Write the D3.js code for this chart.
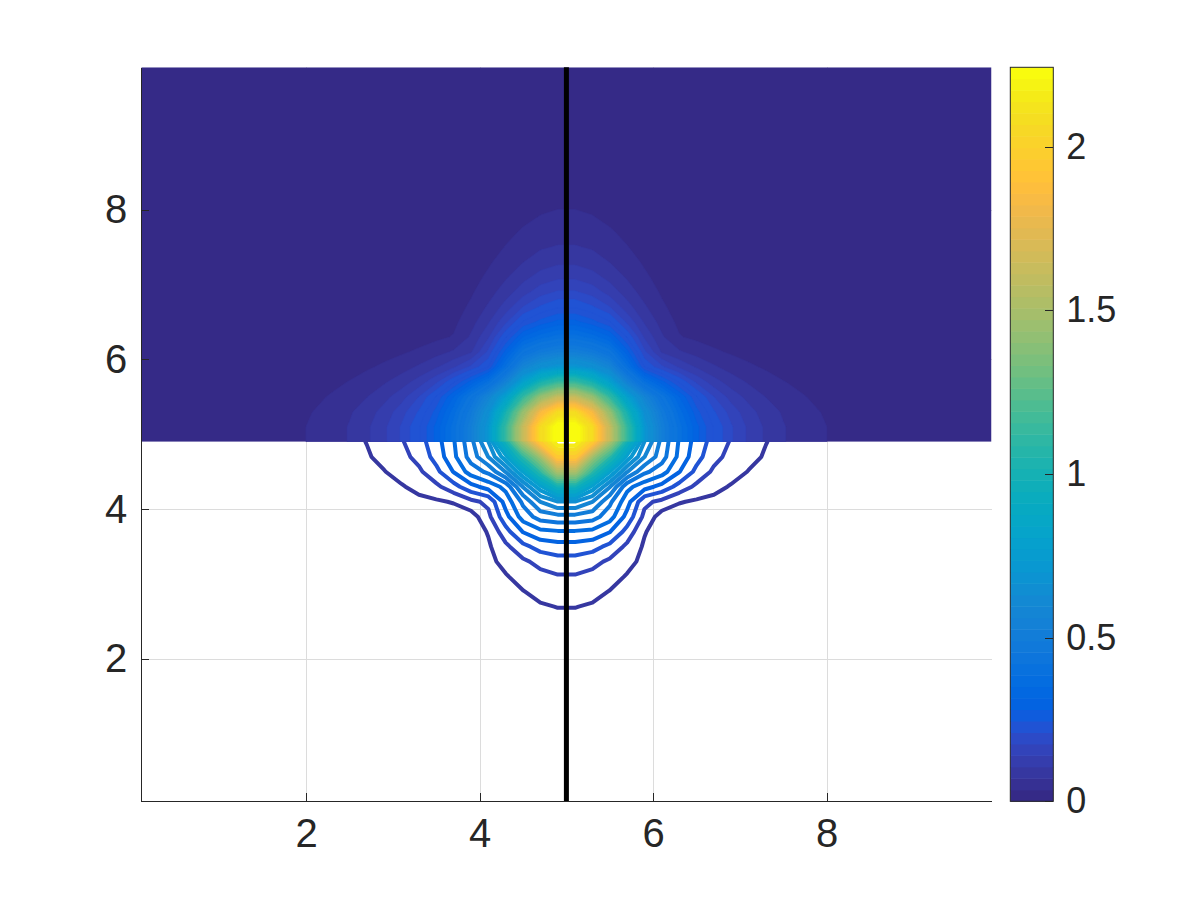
<!DOCTYPE html>
<meta charset="utf-8">
<head>
<style>
    body { margin: 0; background: #fff; font-family: "Liberation Sans", Arial, sans-serif; }
    .grid line { stroke: #dcdcdc; stroke-width: 1; shape-rendering: crispEdges; }
    .grid path { stroke-width: 0; }
    .axis path, .axis line { stroke: #262626; stroke-width: 1; shape-rendering: crispEdges; }
    .axis text { fill: #262626; font-size: 40px; }
    .cbar text { fill: #262626; font-size: 36px; }
    .cbar line { stroke: #262626; shape-rendering: crispEdges; }
    .cbar path { stroke-width: 0; }
</style>
</head>
<body>
<div id="chart"></div>
<script src="https://d3js.org/d3.v7.min.js"></script>
<script>
// values around the peak at (5,5).
// row a / column b are offsets 0.1, 0.3, 0.5 ... from the centre, b >= a
// (same on all four sides and under a <-> b), anything further out = 0

// filled part (upper half)
const fillUpper = [
    [2.243, 2.036, 1.592, 1.108, 0.692, 0.504, 0.374, 0.278, 0.206, 0.153, 0.113, 0.084, 0.062, 0.046, 0.034, 0.026, 0.019],
    [1.800, 1.408, 0.973, 0.638, 0.471, 0.345, 0.250, 0.183, 0.136, 0.101, 0.075, 0.056, 0.041, 0.031, 0.023, 0.017],
    [1.101, 0.761, 0.546, 0.409, 0.300, 0.212, 0.150, 0.107, 0.080, 0.059, 0.044, 0.033, 0.024, 0.018, 0.013],
    [0.526, 0.368, 0.279, 0.205, 0.143, 0.102, 0.075, 0.056, 0.042, 0.031, 0.023, 0.017, 0.013, 0.009],
    [0.210, 0.156, 0.115, 0.086, 0.064, 0.047, 0.035, 0.026, 0.019, 0.014, 0.011, 0.008, 0.006],
    [0.086, 0.064, 0.048, 0.035, 0.026, 0.019, 0.014, 0.011, 0.008, 0.006, 0.004, 0.003],
    [0.032, 0.023, 0.017, 0.013, 0.010, 0.007, 0.005, 0.004, 0.003, 0.002, 0.002],
    [0.010, 0.008, 0.006, 0.004, 0.003, 0.002, 0.002, 0.001, 0.001, 0.001],
    [0.003, 0.002, 0.002, 0.001, 0.001]
];

// contour-line part (lower half)
const lineUpper = [
    [2.243, 1.952, 1.478, 0.974, 0.649, 0.484, 0.355, 0.260, 0.188, 0.138, 0.101, 0.074, 0.054, 0.040, 0.029, 0.022, 0.016],
    [1.432, 1.084, 0.770, 0.580, 0.465, 0.344, 0.244, 0.167, 0.122, 0.090, 0.066, 0.048, 0.035, 0.026, 0.019, 0.014],
    [0.795, 0.583, 0.450, 0.394, 0.293, 0.197, 0.131, 0.096, 0.070, 0.052, 0.038, 0.028, 0.020, 0.015, 0.011],
    [0.384, 0.318, 0.265, 0.190, 0.128, 0.091, 0.067, 0.049, 0.036, 0.026, 0.019, 0.014, 0.010, 0.008],
    [0.162, 0.126, 0.078, 0.062, 0.056, 0.041, 0.030, 0.022, 0.016, 0.012, 0.009, 0.006, 0.005],
    [0.037, 0.030, 0.027, 0.025, 0.021, 0.016, 0.012, 0.009, 0.006, 0.005, 0.004, 0.003],
    [0.003, 0.006, 0.008, 0.008, 0.007, 0.005, 0.004, 0.003, 0.002, 0.002, 0.001],
    [0.000, 0.001, 0.001, 0.001, 0.001]
];

const centre = 5, splitY = 4.9, markerX = 5;
const cmax = 2.243;
const nFill = 75, nLine = 30;
const xTicks = [2, 4, 6, 8], yTicks = [2, 4, 6, 8], cbTicks = [0, 0.5, 1, 1.5, 2];

const parula = [
[0.2081,0.1663,0.5292],[0.2116,0.1898,0.5777],[0.2123,0.2138,0.6270],[0.2081,0.2386,0.6771],
[0.1959,0.2645,0.7279],[0.1707,0.2919,0.7792],[0.1253,0.3242,0.8303],[0.0591,0.3598,0.8683],
[0.0117,0.3875,0.8820],[0.0060,0.4086,0.8828],[0.0165,0.4266,0.8786],[0.0329,0.4430,0.8720],
[0.0498,0.4586,0.8641],[0.0629,0.4737,0.8554],[0.0723,0.4887,0.8467],[0.0779,0.5040,0.8384],
[0.0793,0.5200,0.8312],[0.0749,0.5375,0.8263],[0.0641,0.5570,0.8240],[0.0488,0.5772,0.8228],
[0.0343,0.5966,0.8199],[0.0265,0.6137,0.8135],[0.0239,0.6287,0.8038],[0.0231,0.6418,0.7913],
[0.0228,0.6535,0.7768],[0.0267,0.6642,0.7607],[0.0384,0.6743,0.7436],[0.0590,0.6838,0.7254],
[0.0843,0.6928,0.7062],[0.1133,0.7015,0.6859],[0.1453,0.7098,0.6646],[0.1801,0.7177,0.6424],
[0.2178,0.7250,0.6193],[0.2586,0.7317,0.5954],[0.3022,0.7376,0.5712],[0.3482,0.7424,0.5473],
[0.3953,0.7459,0.5244],[0.4420,0.7481,0.5033],[0.4871,0.7491,0.4840],[0.5300,0.7491,0.4661],
[0.5709,0.7485,0.4494],[0.6099,0.7473,0.4337],[0.6473,0.7456,0.4188],[0.6834,0.7435,0.4044],
[0.7184,0.7411,0.3905],[0.7525,0.7384,0.3768],[0.7858,0.7356,0.3633],[0.8185,0.7327,0.3498],
[0.8507,0.7299,0.3360],[0.8824,0.7274,0.3217],[0.9139,0.7258,0.3063],[0.9450,0.7261,0.2886],
[0.9739,0.7314,0.2666],[0.9938,0.7455,0.2403],[0.9990,0.7653,0.2164],[0.9955,0.7861,0.1967],
[0.9880,0.8066,0.1794],[0.9789,0.8271,0.1633],[0.9697,0.8481,0.1475],[0.9626,0.8705,0.1309],
[0.9589,0.8949,0.1132],[0.9598,0.9218,0.0948],[0.9661,0.9514,0.0755],[0.9763,0.9831,0.0538]
].map(c => d3.rgb(c[0] * 255, c[1] * 255, c[2] * 255).formatHex());

function lineColour(v) {
    return parula[Math.max(0, Math.min(63, Math.floor(v / cmax * 64)))];
}
function fillColour(v) {
    return parula[Math.max(0, Math.min(63, Math.ceil(v / cmax * 64)))];
}

const W = 1200, H = 900;
const x = d3.scaleLinear().domain([0.1, 9.9]).range([141.3, 991.5]);
const y = d3.scaleLinear().domain([0.1, 9.9]).range([801.3, 67.3]);
const yc = d3.scaleLinear().domain([0, cmax]).range([801.3, 67.3]);

// sample grid 0.1:0.2:9.9 in both directions
const nx = 50, ny = 50;
const gridStep = 0.2;
const xGrid = d3.range(nx).map(i => 0.1 + gridStep * i);
const yGrid = d3.range(ny).map(j => 0.1 + gridStep * j);

function toGrid(table) {
    const out = new Array(nx * ny);
    for (let j = 0; j < ny; j++) {
        for (let i = 0; i < nx; i++) {
            const a = Math.round((Math.abs(xGrid[i] - centre) - 0.1) / gridStep);
            const b = Math.round((Math.abs(yGrid[j] - centre) - 0.1) / gridStep);
            const lo = Math.min(a, b), hi = Math.max(a, b);
            const row = table[lo];
            out[j * nx + i] = (!row || hi - lo >= row.length) ? 0 : row[hi - lo];
        }
    }
    return out;
}
const fillValues = toGrid(fillUpper);
const lineValues = toGrid(lineUpper);

const svg = d3.select("#chart").append("svg")
    .attr("width", W).attr("height", H);

const defs = svg.append("defs");
defs.append("clipPath").attr("id", "clipTop").append("rect")
    .attr("x", x(0.1)).attr("y", y(9.9))
    .attr("width", x(9.9) - x(0.1)).attr("height", y(splitY) - y(9.9));
defs.append("clipPath").attr("id", "clipBottom").append("rect")
    .attr("x", x(0.1)).attr("y", y(splitY))
    .attr("width", x(9.9) - x(0.1)).attr("height", y(0.1) - y(splitY));

// gridlines
svg.append("g").attr("class", "grid")
    .attr("transform", `translate(0,${y(0.1)})`)
    .call(d3.axisBottom(x).tickValues(xTicks).tickSize(-(y(0.1) - y(9.9))).tickFormat(""));
svg.append("g").attr("class", "grid")
    .attr("transform", `translate(${x(0.1)},0)`)
    .call(d3.axisLeft(y).tickValues(yTicks).tickSize(-(x(9.9) - x(0.1))).tickFormat(""));

// grid coords -> data -> pixels
const path = d3.geoPath(d3.geoTransform({
    point: function(gx, gy) {
        this.stream.point(x(0.1 + (gx - 0.5) * gridStep), y(0.1 + (gy - 0.5) * gridStep));
    }
}));

// filled contours, top half
const fillLevels = d3.range(1, nFill).map(k => k * cmax / nFill);
const topHalf = svg.append("g").attr("clip-path", "url(#clipTop)");
topHalf.append("rect")
    .attr("x", x(0.1)).attr("y", y(9.9))
    .attr("width", x(9.9) - x(0.1)).attr("height", y(splitY) - y(9.9))
    .attr("fill", parula[0]);
topHalf.selectAll("path")
    .data(d3.contours().size([nx, ny]).thresholds(fillLevels)(fillValues))
    .join("path")
    .attr("d", path)
    .attr("fill", d => fillColour(d.value))
    .attr("stroke", d => fillColour(d.value))
    .attr("stroke-width", 0.5);

// contour lines, bottom half
const lineLevels = d3.range(1, nLine + 1).map(k => k * cmax / (nLine + 1));
svg.append("g").attr("clip-path", "url(#clipBottom)")
    .selectAll("path")
    .data(d3.contours().size([nx, ny]).thresholds(lineLevels)(lineValues))
    .join("path")
    .attr("d", path)
    .attr("fill", "none")
    .attr("stroke", d => lineColour(d.value))
    .attr("stroke-width", 4)
    .attr("stroke-linejoin", "round");

// vertical marker line
svg.append("line")
    .attr("x1", x(markerX)).attr("x2", x(markerX))
    .attr("y1", y(0.1)).attr("y2", y(9.9))
    .attr("stroke", "#000").attr("stroke-width", 5);

// axes
svg.append("g").attr("class", "axis")
    .attr("transform", `translate(0,${y(0.1)})`)
    .call(d3.axisBottom(x).tickValues(xTicks).tickSizeInner(-8).tickSizeOuter(0).tickPadding(17));
svg.append("g").attr("class", "axis")
    .attr("transform", `translate(${x(0.1)},0)`)
    .call(d3.axisLeft(y).tickValues(yTicks).tickSizeInner(-8).tickSizeOuter(0).tickPadding(14));

// colorbar
const cbX = 1010.3, cbW = 43;
svg.append("g").selectAll("rect")
    .data(parula)
    .join("rect")
    .attr("x", cbX)
    .attr("y", (c, i) => yc((i + 1) * cmax / 64))
    .attr("width", cbW)
    .attr("height", (c, i) => yc(i * cmax / 64) - yc((i + 1) * cmax / 64) + 0.5)
    .attr("fill", c => c);
svg.append("rect")
    .attr("x", cbX).attr("y", yc(cmax))
    .attr("width", cbW).attr("height", yc(0) - yc(cmax))
    .attr("fill", "none").attr("stroke", "#262626").attr("stroke-width", 1);
svg.append("g").attr("class", "cbar")
    .attr("transform", `translate(${cbX + cbW},0)`)
    .call(d3.axisRight(yc).tickValues(cbTicks).tickFormat(d => d)
        .tickSizeInner(-8).tickSizeOuter(0).tickPadding(13));
</script>
</body>
